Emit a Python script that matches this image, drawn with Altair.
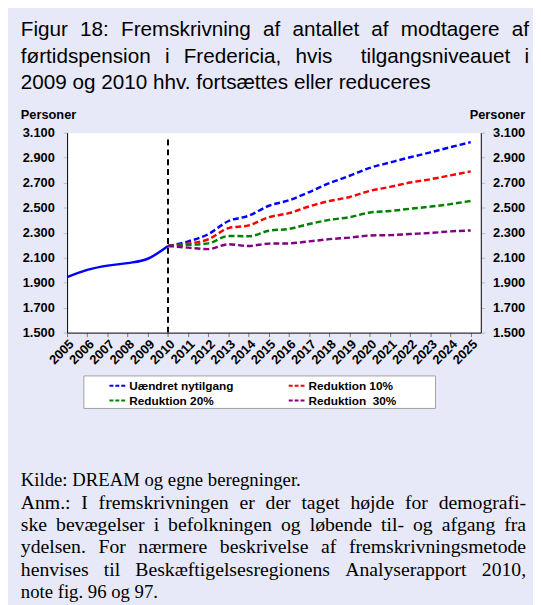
import altair as alt
import pandas as pd

# ---------------- data ----------------
YEARS_HIST = [2005, 2006, 2007, 2008, 2009, 2010]
HIST = [1944, 2002, 2036, 2056, 2091, 2193]

YEARS_PROJ = list(range(2010, 2026))
SERIES = ["Uændret nytilgang", "Reduktion 10%", "Reduktion 20%", "Reduktion\u00a0 30%"]
BLUE = [2193, 2230, 2288, 2393, 2435, 2515, 2559, 2625, 2696, 2755, 2818, 2861, 2903, 2942, 2984, 3024]
RED = [2193, 2212, 2247, 2336, 2358, 2424, 2456, 2510, 2553, 2585, 2634, 2666, 2701, 2727, 2758, 2790]
GREEN = [2193, 2202, 2214, 2273, 2271, 2315, 2330, 2369, 2402, 2424, 2461, 2473, 2491, 2508, 2528, 2554]
PURPLE = [2193, 2180, 2168, 2207, 2193, 2212, 2214, 2230, 2248, 2260, 2277, 2280, 2289, 2297, 2310, 2317]
COLORS = ["#0000FF", "#FF0000", "#008000", "#800080"]

Y_TICKS = list(range(1500, 3101, 200))
X_TICKS = list(range(2005, 2026))
VLINE_YEAR = [2010]
VLINE_FROM = [1500]
VLINE_TO = [3070]

TITLE_LINES = [
    "Figur 18: Fremskrivning af antallet af modtagere af",
    "førtidspension i Fredericia, hvis  tilgangsniveauet i",
    "2009 og 2010 hhv. fortsættes eller reduceres",
]
TITLE_JUSTIFY = [True, True, False]
AXIS_TITLE = "Personer"
NOTE_LINES = [
    "Kilde: DREAM og egne beregninger.",
    "Anm.: I fremskrivningen er der taget højde for demografi-",
    "ske bevægelser i befolkningen og løbende til- og afgang fra",
    "ydelsen. For nærmere beskrivelse af fremskrivningsmetode",
    "henvises til Beskæftigelsesregionens Analyserapport 2010,",
    "note fig. 96 og 97.",
]
NOTE_JUSTIFY = [False, True, True, True, True, False]

hist_df = pd.DataFrame({"year": YEARS_HIST, "value": HIST})
proj_rows = []
for name, vals in zip(SERIES, [BLUE, RED, GREEN, PURPLE]):
    for yr, v in zip(YEARS_PROJ, vals):
        proj_rows.append({"year": yr, "value": v, "series": name})
proj_df = pd.DataFrame(proj_rows)
vline_df = pd.DataFrame({"year": VLINE_YEAR, "y0": VLINE_FROM, "y1": VLINE_TO})

# ---------------- style ----------------
SANS = "Liberation Sans, Arial, sans-serif"
SERIF = "Liberation Serif, Times New Roman, serif"
BG = "#E7E9F8"

# advance widths (1/1000 em) for justifying text lines (Arial / Times metrics)
ARIAL_W = {" ": 278, ",": 278, ".": 278, ":": 278, "-": 333, "%": 889}
ARIAL_W.update({d: 556 for d in "0123456789"})
ARIAL_W.update(dict(zip("ABCDEFGHIJKLMNOPRSTUVW",
                        [667, 667, 722, 722, 667, 611, 778, 722, 278, 500, 667, 556, 833, 722, 778, 667, 722, 667, 611, 722, 667, 944])))
ARIAL_W.update(dict(zip("abcdefghijklmnopqrstuvwxyzæøå",
                        [556, 556, 500, 556, 556, 278, 556, 556, 222, 222, 500, 222, 833, 556, 556, 556, 556, 333, 500, 278, 556, 500, 722, 500, 500, 500, 889, 611, 556])))
TIMES_W = {" ": 250, ",": 250, ".": 250, ":": 278, "-": 333, "%": 833}
TIMES_W.update({d: 500 for d in "0123456789"})
TIMES_W.update(dict(zip("ABCDEFGHIJKLMNOPRSTUVW",
                        [722, 667, 667, 722, 611, 556, 722, 722, 333, 389, 722, 611, 889, 722, 722, 556, 667, 556, 611, 722, 722, 944])))
TIMES_W.update(dict(zip("abcdefghijklmnopqrstuvwxyzæøå",
                        [444, 500, 444, 500, 444, 333, 500, 500, 278, 278, 500, 278, 778, 500, 500, 500, 500, 333, 389, 278, 500, 500, 722, 500, 500, 444, 667, 500, 444])))

x_scale = alt.Scale(domain=[2005, 2025.5], nice=False, zero=False)
y_scale = alt.Scale(domain=[1500, 3100], nice=False, zero=False)

x_axis = alt.Axis(
    values=X_TICKS, format="d", labelAngle=-45, labelAlign="right", labelBaseline="top",
    labelFont=SANS, labelFontWeight="bold", labelFontSize=13, labelColor="black",
    tickSize=4, tickColor="#777777", domainColor="black", domainWidth=1,
    grid=False, title=None, labelPadding=1, labelOverlap=False, labelFlush=False,
)
dot_fmt = "replace(format(datum.value, ','), ',', '.')"


def y_axis(orient, pad):
    return alt.Axis(
        values=Y_TICKS, labelExpr=dot_fmt, orient=orient,
        labelFont=SANS, labelFontWeight="bold", labelFontSize=13, labelColor="black",
        tickSize=4, tickColor="#BBBBBB", domainColor="black", domainWidth=1,
        grid=False, title=None, labelPadding=pad,
    )


X = alt.X("year:Q", scale=x_scale, axis=x_axis)

hist = alt.Chart(hist_df).mark_line(
    color="#0000FF", strokeWidth=2.5, interpolate="monotone"
).encode(x=X, y=alt.Y("value:Q", scale=y_scale, axis=y_axis("left", 9)))

legend = alt.Legend(
    orient="none", legendX=42, legendY=248, columns=2, direction="horizontal", title=None,
    symbolType="stroke", symbolSize=256, symbolStrokeWidth=2, symbolDash=[4, 2],
    labelFont=SANS, labelFontWeight="bold", labelFontSize=12, labelColor="black",
    labelOffset=3, columnPadding=51, rowPadding=0, padding=0,
)
proj = alt.Chart(proj_df).mark_line(
    strokeWidth=2.5, strokeDash=[6, 3], interpolate="monotone"
).encode(
    x=X,
    y=alt.Y("value:Q", scale=y_scale, axis=y_axis("right", 8)),
    color=alt.Color("series:N", scale=alt.Scale(domain=SERIES, range=COLORS), legend=legend, sort=SERIES),
)

vline = alt.Chart(vline_df).mark_rule(
    color="black", strokeWidth=2, strokeDash=[6, 4]
).encode(x=X, y=alt.Y("y0:Q", scale=y_scale, axis=None), y2="y1:Q")

box = alt.Chart(pd.DataFrame({"k": [0]})).mark_rect(
    fill="white", stroke="#A0A0A0", strokeWidth=1
).encode(x=alt.value(17), x2=alt.value(374), y=alt.value(247), y2=alt.value(280))


def text_layer(txt, x, y, font, size, weight="normal", align="left"):
    return alt.Chart(pd.DataFrame({"t": [txt]})).mark_text(
        align=align, baseline="alphabetic", font=font, fontSize=size,
        fontWeight=weight, color="black",
    ).encode(x=alt.value(x), y=alt.value(y), text="t:N")


def line_layers(line, x0, x1, y, font, size, table, justify):
    if not justify:
        return [text_layer(line, x0, y, font, size)]
    tokens = line.split(" ")
    widths = [sum(table.get(c, 500) for c in tok) * size / 1000 for tok in tokens]
    gap = (x1 - x0 - sum(widths)) / (len(tokens) - 1)
    out = []
    x = x0
    for i, (tok, wd) in enumerate(zip(tokens, widths)):
        if tok:
            if i == len(tokens) - 1:
                out.append(text_layer(tok, x1, y, font, size, align="right"))
            else:
                out.append(text_layer(tok, x, y, font, size))
        x += wd + gap
    return out


texts = []
for i, (line, just) in enumerate(zip(TITLE_LINES, TITLE_JUSTIFY)):
    texts += line_layers(line, -47, 469, -98 + 27 * i, SANS, 21, ARIAL_W, just)
texts.append(text_layer(AXIS_TITLE, -47, -14, SANS, 13, "bold"))
texts.append(text_layer(AXIS_TITLE, 465, -14, SANS, 13, "bold", "right"))
for i, (line, just) in enumerate(zip(NOTE_LINES, NOTE_JUSTIFY)):
    size = 20 if just else 19
    texts += line_layers(line, -47, 466, 359 + 22.7 * i, SERIF, size, TIMES_W, just)

chart = alt.layer(box, vline, hist, proj, *texts).resolve_scale(y="independent").properties(
    width=420, height=203,
    autosize="none",
    padding={"left": 60, "top": 122, "right": 53, "bottom": 272},
    background=BG,
).configure_view(fill="white", stroke="transparent")

chart.save("out.html", embed_options={"renderer": "svg", "actions": False})
